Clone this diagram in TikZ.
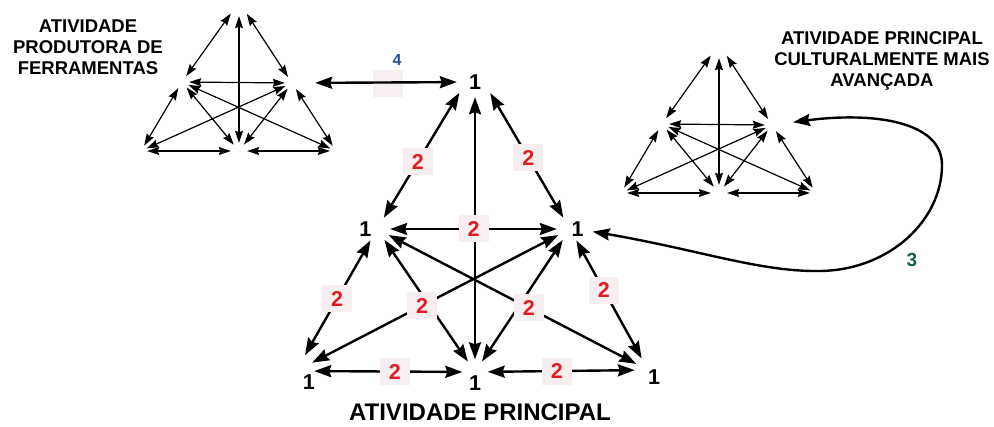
\documentclass[tikz,border=0pt]{standalone}
\usepackage{fontspec}
\setmainfont{Liberation Sans}
\usetikzlibrary{arrows.meta}

\definecolor{numred}{HTML}{E11B22}
\definecolor{boxpink}{HTML}{F7EFEF}
\definecolor{fourblue}{HTML}{1F4E9C}
\definecolor{threegreen}{HTML}{1B5C45}

\tikzset{
  vtx/.style={circle, inner sep=0pt, minimum size=#1},
  big/.style={line width=2.4pt, >={Stealth[length=17pt,width=12pt,inset=2pt]}, <->},
  small/.style={line width=1.2pt, >={Stealth[length=12pt,width=8pt,inset=1.5pt]}, <->},
  one/.style={font=\bfseries\fontsize{21.5}{21.5}\selectfont, inner sep=0pt},
  two/.style={fill=boxpink, text=numred, font=\bfseries\fontsize{21.5}{21.5}\selectfont,
    minimum width=30pt, minimum height=27pt, inner sep=0pt},
  title/.style={font=\bfseries\fontsize{18.5}{21}\selectfont, align=center, inner sep=0pt}
}

\begin{document}
\begin{tikzpicture}[x=1pt,y=-1pt]
\useasboundingbox (0,0) rectangle (994,427);

% tool-producing activity
\node[vtx=28pt] (LT) at (239,2) {};
\node[vtx=14pt] (LML) at (182,82) {};
\node[vtx=14pt] (LMR) at (292,83) {};
\node[vtx=12pt] (LBL) at (141,151) {};
\node[vtx=16pt] (LBM) at (239,151) {};
\node[vtx=12pt] (LBR) at (336,151) {};
\path[small] (LT) edge (LML) edge (LMR) edge (LBM)
  (LML) edge (LMR) edge (LBL) edge (LBM) edge (LBR)
  (LMR) edge (LBR) edge (LBM) edge (LBL)
  (LBL) edge (LBM) (LBM) edge (LBR);

% culturally more advanced activity
\node[vtx=28pt] (RT) at (719,44) {};
\node[vtx=14pt] (RML) at (662,124) {};
\node[vtx=14pt] (RMR) at (772,125) {};
\node[vtx=12pt] (RBL) at (621,193) {};
\node[vtx=16pt] (RBM) at (719,193) {};
\node[vtx=12pt] (RBR) at (816,193) {};
\path[small] (RT) edge (RML) edge (RMR) edge (RBM)
  (RML) edge (RMR) edge (RBL) edge (RBM) edge (RBR)
  (RMR) edge (RBR) edge (RBM) edge (RBL)
  (RBL) edge (RBM) (RBM) edge (RBR);

% central activity
\node[vtx=60pt] (T) at (475,67) [label={[one,name=t1,label distance=-22.8pt]-90:1}] {};
\node[vtx=26pt] (ML) at (377,229) [label={[one,label distance=-7.7pt]180:1}] {};
\node[vtx=26pt] (MR) at (570,229) [label={[one,name=m1,label distance=-11.7pt]0:1}] {};
\node[vtx=36pt] (BL) at (296,371) [label={[one,label distance=-10.5pt]-30:1}] {};
\node[vtx=25pt] (BM) at (475,372) [label={[one,label distance=-9.3pt]-90:1}] {};
\node[vtx=26pt] (BR) at (648,370) [label={[one,label distance=-13.9pt]-75:1}] {};

\path[big] (T) edge (BM) (ML) edge (BM) (MR) edge (BM);
\path[big] (T) edge node[two,pos=.55] {2} (ML)
  (T) edge node[two,pos=.52] {2} (MR)
  (ML) edge node[two] {2} (MR)
  (ML) edge node[two,pos=.51] {2} (BL)
  (MR) edge node[two,pos=.42] {2} (BR)
  (BL) edge node[two,pos=.545] {2} (BM)
  (BM) edge node[two,pos=.47] {2} (BR)
  (BL) edge node[two,pos=.447] {2} (MR)
  (ML) edge node[two,pos=.566] {2} (BR);

% link 4 to the tool-producing activity
\node[fill=boxpink, minimum width=30pt, minimum height=27pt] (gap) at (388,84) {};
\path[big] (LMR) edge[shorten <=16pt, shorten >=12pt] (t1);
\node[text=fourblue, font=\bfseries\fontsize{16}{16}\selectfont] (four) at (397,60) {4};

% link 3 to the more advanced activity
\draw[big, shorten <=9pt, shorten >=14pt] (m1) .. controls (700,250) and (760,272) .. (820,271)
  .. controls (890,270) and (942,220) .. (942,165)
  .. controls (942,120) and (870,112) .. (RMR);
\node[text=threegreen, font=\bfseries\fontsize{19}{19}\selectfont] (three) at (912,260) {3};

% titles
\node[title] (tools) at (88,47) {ATIVIDADE\\PRODUTORA DE\\FERRAMENTAS};
\node[title] (culture) at (882,61) {ATIVIDADE PRINCIPAL\\CULTURALMENTE MAIS\\AVANÇADA};
\node[title, font=\bfseries\fontsize{24}{24}\selectfont] (main) at (480,412) {ATIVIDADE PRINCIPAL};
\end{tikzpicture}
\end{document}
